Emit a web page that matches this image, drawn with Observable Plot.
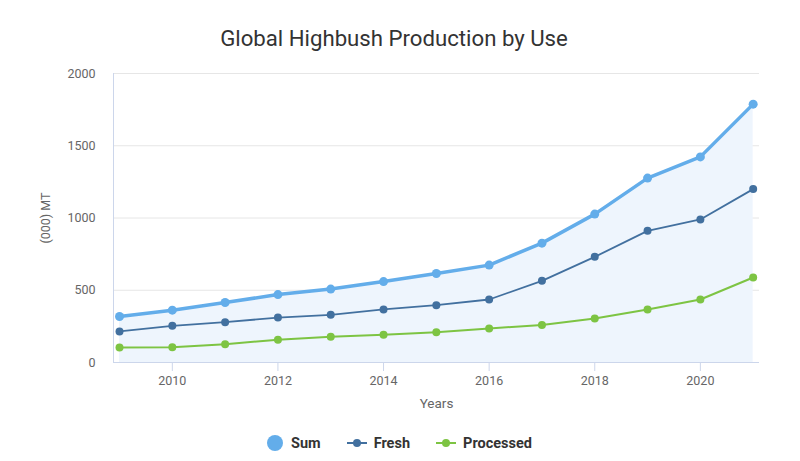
<!DOCTYPE html>
<html><head><meta charset="utf-8">
<script src="https://cdn.jsdelivr.net/npm/d3@7"></script>
<script src="https://cdn.jsdelivr.net/npm/@observablehq/plot@0.6"></script>
<style>
body{margin:0;background:#fff;font-family:Roboto,"Open Sans",sans-serif;}
#wrap{width:800px;height:461px;position:relative;overflow:hidden;}
#title{height:60px;line-height:76px;text-align:center;font-size:22.2px;color:#333;padding-right:12px;}
#legend{height:36px;display:flex;justify-content:center;align-items:center;gap:26px;font-size:14.5px;font-weight:bold;color:#333;padding-right:2px;}
.li{display:flex;align-items:center;gap:7px;}
</style></head><body>
<div id="wrap">
<div id="title">Global Highbush Production by Use</div>
<div id="chart"></div>
<div id="legend"></div>
</div>
<script>
const years = [2009,2010,2011,2012,2013,2014,2015,2016,2017,2018,2019,2020,2021];
const sum = [318,362,415,470,508,560,616,674,826,1027,1276,1423,1788];
const fresh = [215,254,279,311,330,367,397,436,565,731,911,990,1200];
const processed = [104,106,127,157,178,192,210,236,260,305,367,436,588];
const xTicks = [2010,2012,2014,2016,2018,2020];
const yTicks = [0,500,1000,1500,2000];
const seriesNames = ["Sum","Fresh","Processed"];
const colors = ["#63adea","#42709f","#7dc443"];

const rows = (vals) => years.map((y,i)=>({year:y, value:vals[i]}));
const S = rows(sum), F = rows(fresh), P = rows(processed);

const chart = Plot.plot({
  width: 800, height: 365,
  marginTop: 13, marginBottom: 63, marginLeft: 113, marginRight: 41,
  style: {fontFamily: "Roboto, sans-serif", fontSize: "12px", color: "#666"},
  x: {domain: [2008.886, 2021.12], label: null},
  y: {domain: [0, 2000], label: null},
  marks: [
    Plot.gridY(yTicks, {stroke: "#e6e6e6", strokeOpacity: 1}),
    Plot.areaY(S, {x: "year", y: "value", fill: "#eef5fd", curve: "linear"}),
    Plot.ruleX([2008.886], {stroke: "#ccd6eb"}),
    Plot.ruleY([0], {stroke: "#ccd6eb"}),
    Plot.axisX({ticks: xTicks, tickFormat: d => String(d), tickSize: 9, stroke: "#ccd6eb", strokeOpacity: 1, tickPadding: 5, fill: "#666", fontSize: 12.5, label: null}),
    Plot.axisY({ticks: yTicks, tickFormat: d => String(d), tickSize: 0, tickPadding: 18, fill: "#666", fontSize: 12.5, label: null}),
    Plot.line(P, {x: "year", y: "value", stroke: colors[2], strokeWidth: 2}),
    Plot.dot(P, {x: "year", y: "value", fill: colors[2], r: 4}),
    Plot.line(F, {x: "year", y: "value", stroke: colors[1], strokeWidth: 1.8}),
    Plot.dot(F, {x: "year", y: "value", fill: colors[1], r: 4}),
    Plot.line(S, {x: "year", y: "value", stroke: colors[0], strokeWidth: 3.5}),
    Plot.dot(S, {x: "year", y: "value", fill: colors[0], r: 4.5}),
    Plot.text(["Years"], {frameAnchor: "bottom", dy: 45, fill: "#666", fontSize: 13.5}),
    Plot.text(["(000) MT"], {frameAnchor: "left", dx: -68, rotate: -90, fill: "#666", fontSize: 12.5, textAnchor: "middle"})
  ]
});
document.getElementById("chart").appendChild(chart);

const lg = document.getElementById("legend");
seriesNames.forEach((n,i)=>{
  const d = document.createElement("div"); d.className="li";
  const sym = i===0
    ? `<svg width="18" height="18"><circle cx="9" cy="9" r="8" fill="${colors[i]}"/></svg>`
    : `<svg width="20" height="12"><line x1="0" y1="6" x2="20" y2="6" stroke="${colors[i]}" stroke-width="2"/><circle cx="10" cy="6" r="4" fill="${colors[i]}"/></svg>`;
  d.innerHTML = sym + `<span>${n}</span>`;
  lg.appendChild(d);
});
</script>
</body></html>
